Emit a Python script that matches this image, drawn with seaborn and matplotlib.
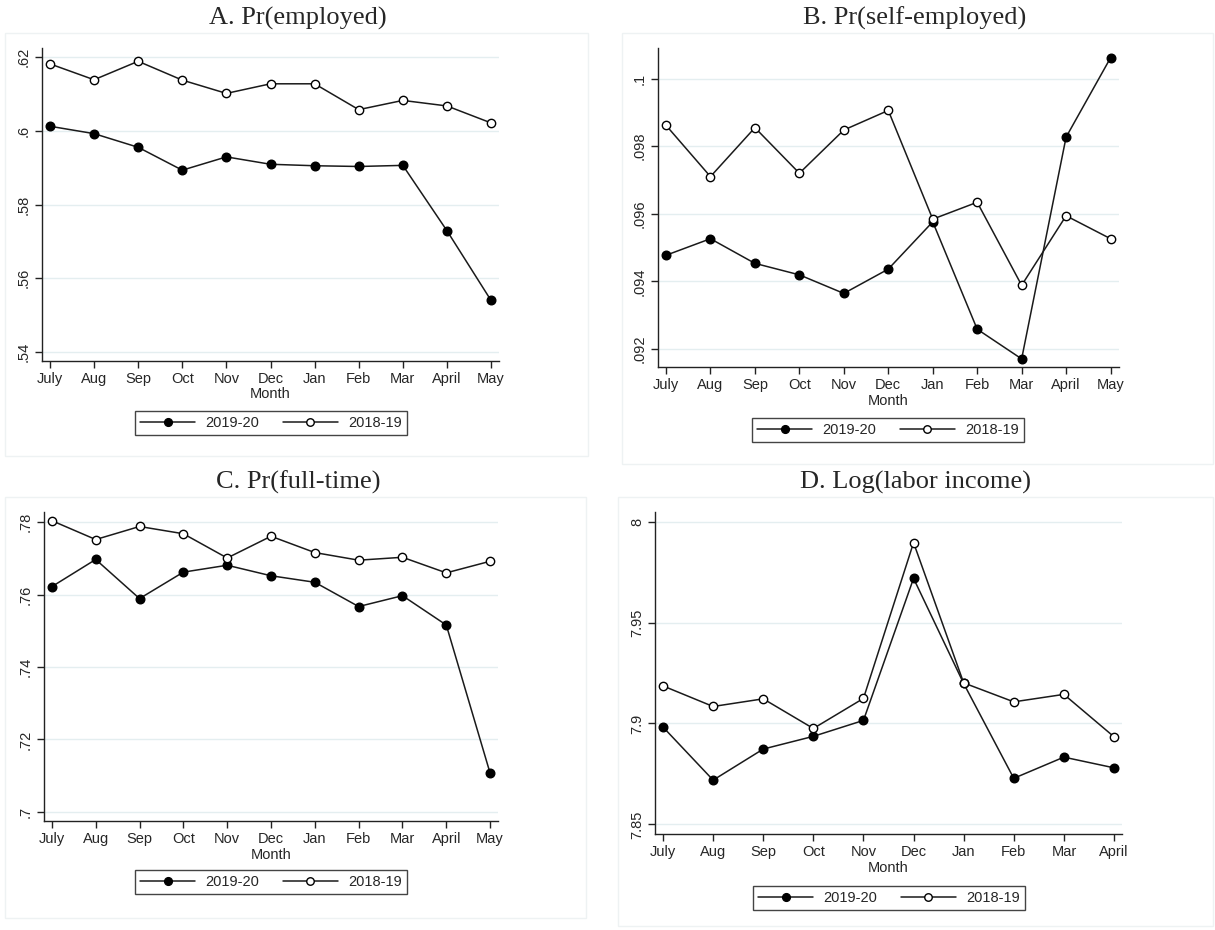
import numpy as np
import pandas as pd
import matplotlib
matplotlib.use("Agg")
import matplotlib.pyplot as plt
from matplotlib.patches import Rectangle
import seaborn as sns

sns.set_style("white")
plt.rcParams['font.family'] = ['Liberation Sans', 'DejaVu Sans']

# --- data ---
months_11 = ['July', 'Aug', 'Sep', 'Oct', 'Nov', 'Dec', 'Jan', 'Feb', 'Mar', 'April', 'May']
months_10 = months_11[:10]

emp_1920 = [0.6012, 0.5992, 0.5955, 0.5893, 0.5929, 0.5909, 0.5905, 0.5903, 0.5906, 0.5729, 0.5540]
emp_1819 = [0.6181, 0.6138, 0.6188, 0.6137, 0.6101, 0.6127, 0.6127, 0.6057, 0.6082, 0.6067, 0.6021]

self_1920 = [0.09477, 0.09526, 0.09453, 0.09419, 0.09364, 0.09436, 0.09576, 0.09258, 0.09170, 0.09827, 0.10062]
self_1819 = [0.09862, 0.09710, 0.09855, 0.09720, 0.09848, 0.09906, 0.09584, 0.09634, 0.09388, 0.09594, 0.09526]

ft_1920 = [0.7622, 0.7697, 0.7589, 0.7662, 0.7681, 0.7652, 0.7634, 0.7567, 0.7597, 0.7516, 0.7107]
ft_1819 = [0.7804, 0.7752, 0.7788, 0.7768, 0.7701, 0.7761, 0.7716, 0.7695, 0.7703, 0.7660, 0.7692]

inc_1920 = [7.8982, 7.8719, 7.8873, 7.8936, 7.9015, 7.9719, 7.9198, 7.8728, 7.8833, 7.8780]
inc_1819 = [7.9186, 7.9084, 7.9122, 7.8975, 7.9124, 7.9896, 7.9201, 7.9107, 7.9144, 7.8934]

emp_ticks = [0.54, 0.56, 0.58, 0.60, 0.62]
emp_ticklabels = ['.54', '.56', '.58', '.6', '.62']
self_ticks = [0.092, 0.094, 0.096, 0.098, 0.100]
self_ticklabels = ['.092', '.094', '.096', '.098', '.1']
ft_ticks = [0.70, 0.72, 0.74, 0.76, 0.78]
ft_ticklabels = ['.7', '.72', '.74', '.76', '.78']
inc_ticks = [7.85, 7.90, 7.95, 8.00]
inc_ticklabels = ['7.85', '7.9', '7.95', '8']

titles = ['A. Pr(employed)', 'B. Pr(self-employed)', 'C. Pr(full-time)', 'D. Log(labor income)']
series_names = ['2019-20', '2018-19']

W, H = 1215, 930
fig = plt.figure(figsize=(W / 100, H / 100), dpi=100)


def px_axes(l, t, r, b):
    return fig.add_axes([l / W, 1 - b / H, (r - l) / W, (b - t) / H])


def frame(l, t, r, b):
    fig.patches.append(Rectangle((l / W, 1 - b / H), (r - l) / W, (b - t) / H,
                                 transform=fig.transFigure, fill=False,
                                 edgecolor='#eef2f3', lw=1.0))


GRID = '#e4eef0'
LINE = '#1a1a1a'

panels = [
    # axes box px, frame px, months, 1920, 1819, ylim, ticks, labels, xlim, title xy, legend xy
    dict(box=(42, 48, 499, 361), frame=(5, 33, 588, 456), months=months_11,
         a=emp_1920, b=emp_1819, ylim=(0.5376, 0.6224), ticks=emp_ticks, labels=emp_ticklabels,
         xlim=(-0.18, 10.18), title=(298, 18), leg=(271, 423)),
    dict(box=(658, 48, 1119, 367), frame=(622, 33, 1213, 464), months=months_11,
         a=self_1920, b=self_1819, ylim=(0.09146, 0.10091), ticks=self_ticks, labels=self_ticklabels,
         xlim=(-0.18, 10.19), title=(915, 18), leg=(888, 430)),
    dict(box=(44, 512, 498, 821), frame=(5, 497, 586, 918), months=months_11,
         a=ft_1920, b=ft_1819, ylim=(0.6975, 0.7828), ticks=ft_ticks, labels=ft_ticklabels,
         xlim=(-0.18, 10.18), title=(298, 482), leg=(271, 882)),
    dict(box=(655, 512, 1122, 834), frame=(618, 497, 1213, 926), months=months_10,
         a=inc_1920, b=inc_1819, ylim=(7.8452, 8.0048), ticks=inc_ticks, labels=inc_ticklabels,
         xlim=(-0.16, 9.16), title=(915, 482), leg=(889, 898)),
]

for p, title in zip(panels, titles):
    frame(*p['frame'])
    ax = px_axes(*p['box'])
    n = len(p['months'])
    df = pd.DataFrame({
        'pos': list(range(n)) * 2,
        'value': list(p['a']) + list(p['b']),
        'period': [series_names[0]] * n + [series_names[1]] * n,
    })
    sns.lineplot(data=df[df.period == series_names[0]], x='pos', y='value', ax=ax,
                 color=LINE, lw=1.1, marker='o', markersize=6.2,
                 markerfacecolor='black', markeredgecolor='black', markeredgewidth=1,
                 label=series_names[0], zorder=3)
    sns.lineplot(data=df[df.period == series_names[1]], x='pos', y='value', ax=ax,
                 color=LINE, lw=1.1, marker='o', markersize=6,
                 markerfacecolor='white', markeredgecolor='black', markeredgewidth=1,
                 label=series_names[1], zorder=3)

    ax.set_xlim(*p['xlim'])
    ax.set_ylim(*p['ylim'])
    ax.set_xticks(range(n))
    ax.set_xticklabels(p['months'])
    ax.set_yticks(p['ticks'])
    ax.set_yticklabels(p['labels'], rotation=90, va='center')
    ax.grid(axis='y', color=GRID, lw=1.0)
    ax.set_axisbelow(True)
    for s in ['top', 'right']:
        ax.spines[s].set_visible(False)
    for s in ['left', 'bottom']:
        ax.spines[s].set_color('#222222')
        ax.spines[s].set_linewidth(1.0)
    ax.tick_params(axis='both', direction='out', length=5, width=1, color='#222222',
                   labelsize=10.5, pad=3, left=True, bottom=True)
    ax.set_xlabel('Month', fontsize=10.5, labelpad=1)
    ax.set_ylabel('')

    fig.text(p['title'][0] / W, 1 - p['title'][1] / H, title, ha='center', va='center',
             fontsize=19, family=['Liberation Serif', 'DejaVu Serif'])

    handles, leg_labels = ax.get_legend_handles_labels()
    ax.legend(handles, leg_labels, loc='center', ncol=2,
              bbox_to_anchor=(p['leg'][0] / W, 1 - p['leg'][1] / H),
              bbox_transform=fig.transFigure, frameon=True, fancybox=False,
              edgecolor='#444444', framealpha=1, fontsize=10.5, handlelength=3.8,
              numpoints=1, markerscale=0.9, borderpad=0.35, columnspacing=1.6,
              handletextpad=0.7, borderaxespad=0)
    ax.get_legend().get_frame().set_linewidth(1.0)

fig.savefig('out.png', dpi=100)
